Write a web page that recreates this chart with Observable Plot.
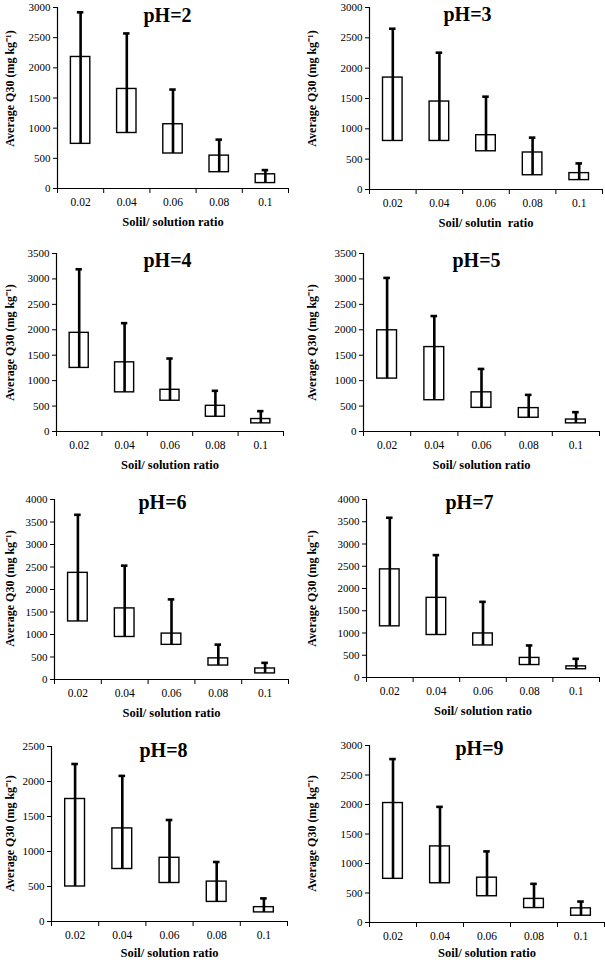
<!DOCTYPE html>
<html>
<head>
<meta charset="utf-8">
<script src="https://cdn.jsdelivr.net/npm/d3@7"></script>
<script src="https://cdn.jsdelivr.net/npm/@observablehq/plot@0.6"></script>
<style>
  html, body { margin: 0; padding: 0; background: #fff; }
  #root { position: relative; width: 605px; height: 960px; background: #fff; overflow: hidden; }
  .panel { position: absolute; }
</style>
</head>
<body>
<div id="root"></div>
<script>
// ---- Data ----
const categories = ["0.02", "0.04", "0.06", "0.08", "0.1"];
const panelTitles = ["pH=2", "pH=3", "pH=4", "pH=5", "pH=6", "pH=7", "pH=8", "pH=9"];
const xTitles = ["Solil/ solution ratio", "Soil/ solutin  ratio", "Soil/ solution ratio", "Soil/ solution ratio",
                 "Soil/ solution ratio", "Soil/ solution ratio", "Soil/ solution ratio", "Soil/ solution ratio"];
const yTitle = "Average Q30 (mg kg\u207B\u00B9)";
const yMax = [3000, 3000, 3500, 3500, 4000, 4000, 2500, 3000];
const yStep = 500;

// box bottom (min), box top, whisker top (max) per panel, per ratio
const boxBottom = [
  [740, 920, 580, 270, 90],
  [800, 800, 630, 235, 155],
  [1250, 770, 605, 290, 160],
  [1040, 615, 465, 270, 160],
  [1290, 945, 770, 310, 135],
  [1150, 955, 720, 280, 185],
  [500, 750, 550, 280, 130],
  [740, 665, 445, 245, 115]
];
const boxTop = [
  [2180, 1650, 1065, 545, 235],
  [1845, 1450, 895, 610, 270],
  [1940, 1360, 820, 505, 245],
  [1990, 1660, 770, 460, 235],
  [2370, 1580, 1020, 470, 245],
  [2430, 1790, 990, 440, 250],
  [1750, 1330, 910, 570, 205],
  [2025, 1290, 760, 400, 240]
];
const whiskerTop = [
  [2920, 2570, 1640, 810, 305],
  [2650, 2255, 1530, 855, 430],
  [3190, 2130, 1435, 800, 400],
  [3020, 2270, 1230, 720, 380],
  [3660, 2530, 1780, 775, 370],
  [3590, 2750, 1700, 720, 420],
  [2250, 2080, 1450, 850, 330],
  [2770, 1960, 1205, 655, 355]
];

// ---- Layout (panel-local pixel geometry) ----
const layout = [
  {axisX: 57, right: 288, top: 7,  bottom: 188, tx: 167, ty: 15, ly: 88,  xt: 33},
  {axisX: 67, right: 300, top: 7,  bottom: 189, tx: 165, ty: 14, ly: 88,  xt: 33},
  {axisX: 56, right: 283, top: 13, bottom: 191, tx: 167, ty: 20, ly: 102, xt: 33},
  {axisX: 61, right: 297, top: 13, bottom: 191, tx: 174, ty: 20, ly: 102, xt: 33},
  {axisX: 54, right: 288, top: 19, bottom: 199, tx: 162, ty: 22, ly: 108, xt: 33},
  {axisX: 64, right: 297, top: 19, bottom: 197, tx: 167, ty: 22, ly: 108, xt: 33},
  {axisX: 51, right: 287, top: 26, bottom: 201, tx: 163, ty: 30, ly: 113, xt: 31},
  {axisX: 67, right: 302, top: 25, bottom: 202, tx: 177, ty: 28, ly: 113, xt: 30}
];

const root = document.getElementById("root");
const FONT = "'Liberation Serif', 'Times New Roman', serif";

panelTitles.forEach((title, p) => {
  const col = p % 2, row = Math.floor(p / 2);
  const W = col === 0 ? 302 : 303, H = 240;
  const L = layout[p];
  const rows = categories.map((c, i) => ({
    i, cat: c, lo: boxBottom[p][i], hi: boxTop[p][i], mx: whiskerTop[p][i]
  }));
  const halfBox = 0.21, halfCap = 0.07;
  const plot = Plot.plot({
    width: W,
    height: H,
    marginLeft: L.axisX,
    marginRight: W - L.right,
    marginTop: L.top,
    marginBottom: H - L.bottom,
    style: {fontFamily: FONT, fontSize: "11px", color: "black", background: "white", overflow: "visible"},
    x: {domain: [0, categories.length], axis: null},
    y: {domain: [0, yMax[p]], axis: null},
    marks: [
      Plot.rect(rows, {x1: d => d.i + 0.5 - halfBox, x2: d => d.i + 0.5 + halfBox, y1: "lo", y2: "hi",
                       fill: "white", stroke: "black", strokeWidth: 1.4}),
      Plot.ruleX(rows, {x: d => d.i + 0.5, y1: "lo", y2: "mx", stroke: "black", strokeWidth: 2.6}),
      Plot.ruleY(rows, {x1: d => d.i + 0.5 - halfCap, x2: d => d.i + 0.5 + halfCap, y: "mx", stroke: "black", strokeWidth: 2.6}),
      Plot.ruleX([0], {stroke: "black", strokeWidth: 1.2}),
      Plot.ruleY([0], {stroke: "black", strokeWidth: 1.2}),
      Plot.axisY({ticks: d3.range(0, yMax[p] + 1, yStep), tickFormat: d3.format("d"), tickSize: 4,
                  tickPadding: 3, stroke: "black", strokeWidth: 1, fontSize: 11, label: null}),
      Plot.axisX({ticks: d3.range(0, categories.length + 1), tickFormat: () => "", tickSize: 5,
                  stroke: "black", strokeWidth: 1, label: null}),
      Plot.axisX({ticks: categories.map((c, i) => i + 0.5), tickFormat: d => categories[Math.floor(d)],
                  tickSize: 0, tickPadding: 9, fontSize: 11.5, label: null}),
      Plot.text([title], {frameAnchor: "top-left", dx: L.tx - L.axisX, dy: L.ty - L.top,
                          textAnchor: "middle", lineAnchor: "middle",
                          fontSize: 20, fontWeight: "bold", fill: "black"}),
      Plot.text([xTitles[p]], {frameAnchor: "bottom", dy: L.xt, lineAnchor: "middle", textAnchor: "middle",
                               fontSize: 12.5, fontWeight: "bold", fill: "black"}),
      Plot.text([yTitle], {frameAnchor: "top-left", dx: -(L.axisX - 10), dy: L.ly - L.top, rotate: -90,
                           textAnchor: "middle", lineAnchor: "middle",
                           fontSize: 12, fontWeight: "bold", fill: "black"})
    ]
  });
  const div = document.createElement("div");
  div.className = "panel";
  div.style.left = (col * 302) + "px";
  div.style.top = (row * 240) + "px";
  div.appendChild(plot);
  root.appendChild(div);
});
</script>
</body>
</html>
